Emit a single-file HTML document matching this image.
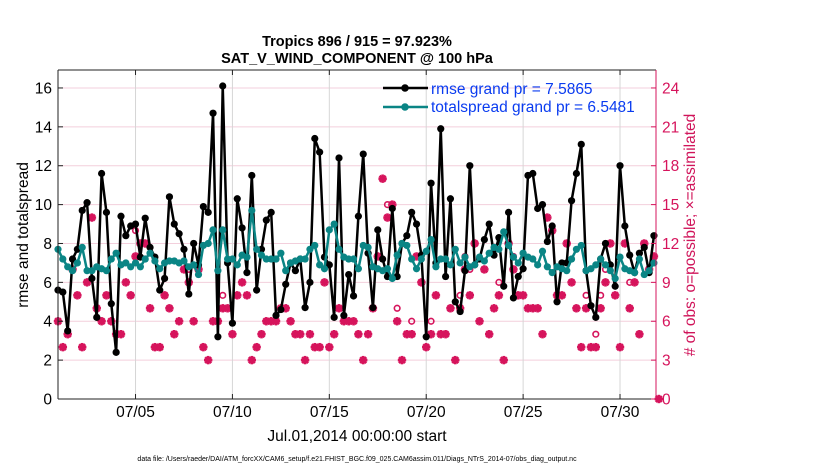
<!DOCTYPE html>
<html><head><meta charset="utf-8"><style>
body{margin:0;background:#fff;}
svg text{font-family:"Liberation Sans",sans-serif;}
</style></head><body>
<svg id="chart" width="830" height="470" viewBox="0 0 830 470" xmlns="http://www.w3.org/2000/svg">
<text x="357" y="46" font-size="14.5" font-weight="bold" text-anchor="middle">Tropics 896 / 915 = 97.923%</text>
<text x="357" y="63" font-size="14.5" font-weight="bold" text-anchor="middle">SAT_V_WIND_COMPONENT @ 100 hPa</text>
<g id="grid"></g>
<g id="marks"></g>
<g id="axes"></g>
<text transform="translate(28,235) rotate(-90)" font-size="15.5" text-anchor="middle">rmse and totalspread</text>
<text transform="translate(695,235) rotate(-90)" font-size="15.5" fill="#d0145a" text-anchor="middle"># of obs: o=possible; ×=assimilated</text>
<text x="357" y="441" font-size="15.5" text-anchor="middle">Jul.01,2014 00:00:00 start</text>
<text x="357" y="461" font-size="7" text-anchor="middle">data file: /Users/raeder/DAI/ATM_forcXX/CAM6_setup/f.e21.FHIST_BGC.f09_025.CAM6assim.011/Diags_NTrS_2014-07/obs_diag_output.nc</text>
<g>
<line x1="383" y1="88" x2="428" y2="88" stroke="#000" stroke-width="2.5"/><circle cx="405" cy="88" r="3.8" fill="#000"/>
<text x="431" y="94" font-size="15.5" fill="#0a3cf0">rmse grand pr = 7.5865</text>
<line x1="383" y1="107" x2="428" y2="107" stroke="#0a8585" stroke-width="2.5"/><circle cx="405" cy="107" r="3.8" fill="#0a8585"/>
<text x="431" y="112" font-size="15.5" fill="#0a3cf0">totalspread grand pr = 6.5481</text>
</g>
</svg>
<script>
const rmse=[5.6,5.5,3.5,7.2,7.7,9.7,10.1,6.2,4.2,11.6,9.6,4.9,2.4,9.4,8.4,8.9,9.0,7.3,9.3,7.8,7.3,5.6,6.2,10.4,9.0,8.5,7.7,5.4,8.0,6.9,9.9,9.6,14.7,
3.2,16.1,7.0,3.9,10.3,8.8,6.5,11.5,5.6,7.7,9.2,9.6,4.3,4.6,5.9,7.0,6.6,7.2,4.7,6.0,13.4,12.7,7.3,6.9,4.2,12.4,4.3,6.4,5.3,9.4,12.6,
7.5,4.7,8.7,7.2,6.3,9.8,6.3,8.0,8.4,9.6,9.0,7.4,3.2,11.1,7.0,13.9,6.3,10.3,5.0,4.5,6.6,12.0,6.9,7.2,8.2,9.0,7.4,8.3,5.8,9.6,5.2,
6.3,6.7,11.5,11.6,9.8,10.0,8.1,8.9,5.0,7.0,7.0,10.2,11.6,13.1,6.6,4.8,4.2,7.2,8.0,6.9,5.8,12.0,8.9,7.4,6.5,7.5,7.8,6.5,8.4];
const spread=[7.7,7.2,6.8,6.6,7.0,7.8,6.6,6.6,6.8,6.7,6.6,7.2,7.5,6.9,7.0,6.8,7.0,6.8,7.2,7.5,7.1,6.7,7.0,7.1,7.1,7.0,7.1,6.8,6.9,6.4,7.9,8.0,8.7,
6.6,8.7,7.2,7.2,6.9,7.4,7.3,9.7,7.7,7.4,7.2,7.2,7.2,7.5,6.6,7.0,7.1,7.2,7.2,7.7,7.9,6.9,6.7,8.7,9.0,7.7,7.3,7.2,7.2,6.7,7.9,
7.8,6.8,6.7,6.6,6.7,6.2,7.4,8.0,7.9,7.2,6.7,7.2,7.6,8.2,6.8,7.2,7.2,6.9,7.7,7.0,7.3,6.8,6.9,7.3,7.1,7.5,7.8,7.7,8.6,7.9,7.3,
7.0,7.5,7.3,7.2,6.9,7.6,6.8,6.5,6.8,6.7,6.6,7.2,7.7,7.9,6.6,6.7,6.9,7.2,6.9,6.6,6.2,7.3,6.7,6.6,6.5,7.2,6.4,6.6,7.0];
const assimilated=[6,4,5,10,8,4,9,14,7,6,8,6,5,5,9,8,11,12,12,7,4,4,8,7,5,6,10,9,6,10,4,3,6,
6,7,7,5,8,9,8,3,4,5,6,6,6,7,7,6,5,5,3,5,4,4,9,4,5,7,6,6,6,5,3,
5,7,11,17,14,15,6,3,5,5,11,9,4,5,8,5,5,7,3,7,10,8,12,6,10,5,7,8,3,12,10,
8,8,7,7,7,5,14,13,8,8,12,9,7,4,7,4,4,7,9,12,8,4,12,7,9,5,12,10,11,0];
const possibleIdx=[16,27,34,68,70,73,77,83,84,85,91,94,109,111,112,113,118];
const possibleVal=[13,10,8,15,7,6,6,8,11,10,9,11,8,5,8,10,9];
const xTickLabels=["07/05","07/10","07/15","07/20","07/25","07/30"];
const xTickDays=[4,9,14,19,24,29];
const yLeftTicks=[0,2,4,6,8,10,12,14,16];
const yRightTicks=[0,3,6,9,12,15,18,21,24];

const X0=58,X1=656,YB=399,YT=70;
const xs=d=>X0+d*19.38;
const xi=i=>xs(i/4);
const yl=v=>YB-v*19.44;
const yr=c=>YB-c*12.96;
const NS="http://www.w3.org/2000/svg";
function mk(tag,attrs,parent){const e=document.createElementNS(NS,tag);for(const k in attrs)e.setAttribute(k,attrs[k]);parent.appendChild(e);return e;}
const grid=document.getElementById('grid'),marks=document.getElementById('marks'),axes=document.getElementById('axes');

yRightTicks.forEach(c=>{const g=mk('line',{x1:X0,x2:X1,y1:yr(c),y2:yr(c),stroke:'#f3cfdc','stroke-width':1},grid);

});
xTickDays.forEach(d=>{const g=mk('line',{x1:xs(d),x2:xs(d),y1:YT,y2:YB,stroke:'#d6d6d6','stroke-width':1},grid);

});

const CR='#d6145c';
assimilated.forEach((c,i)=>{const x=xi(i),y=yr(c),r=4.2,g=mk('g',{stroke:CR,'stroke-width':2.6},marks);


mk('line',{x1:x-r,x2:x+r,y1:y,y2:y},g);mk('line',{x1:x,x2:x,y1:y-r,y2:y+r},g);
mk('line',{x1:x-3,x2:x+3,y1:y-3,y2:y+3},g);mk('line',{x1:x-3,x2:x+3,y1:y+3,y2:y-3},g);});
possibleIdx.forEach((i,k)=>{const c=mk('circle',{cx:xi(i),cy:yr(possibleVal[k]),r:2.8,fill:'none',stroke:CR,'stroke-width':1.6},marks);

});

function series(vals,color,name){
 const p=mk('polyline',{points:vals.map((v,i)=>xi(i)+','+yl(v)).join(' '),fill:'none',stroke:color,'stroke-width':2.5,'stroke-linejoin':'round'},marks);
 
 
 vals.forEach((v,i)=>{const c=mk('circle',{cx:xi(i),cy:yl(v),r:3.6,fill:color},marks);
 
 });
}
series(rmse,'#000','rmse');
series(spread,'#0a8585','totalspread');

mk('line',{x1:X0,x2:X1,y1:YT,y2:YT,stroke:'#222','stroke-width':1},axes);
mk('line',{x1:X0,x2:X1,y1:YB,y2:YB,stroke:'#222','stroke-width':1},axes);
mk('line',{x1:X0,x2:X0,y1:YT,y2:YB,stroke:'#222','stroke-width':1},axes);
mk('line',{x1:X1,x2:X1,y1:YT,y2:YB,stroke:CR,'stroke-width':1},axes);
yLeftTicks.forEach(v=>{mk('line',{x1:X0,x2:X0+5,y1:yl(v),y2:yl(v),stroke:'#222'},axes);
const t=mk('text',{x:X0-6,y:yl(v)+5.5,'font-size':15.5,'text-anchor':'end'},axes);t.textContent=v;

});
yRightTicks.forEach(c=>{mk('line',{x1:X1-5,x2:X1,y1:yr(c),y2:yr(c),stroke:CR},axes);
const t=mk('text',{x:X1+6,y:yr(c)+5.5,'font-size':15.5,fill:CR},axes);t.textContent=c;

});
xTickDays.forEach((d,k)=>{mk('line',{x1:xs(d),x2:xs(d),y1:YB,y2:YB-5,stroke:'#222'},axes);mk('line',{x1:xs(d),x2:xs(d),y1:YT,y2:YT+5,stroke:'#222'},axes);
const t=mk('text',{x:xs(d),y:417,'font-size':15.5,'text-anchor':'middle'},axes);t.textContent=xTickLabels[k];

});
</script>
</body></html>
